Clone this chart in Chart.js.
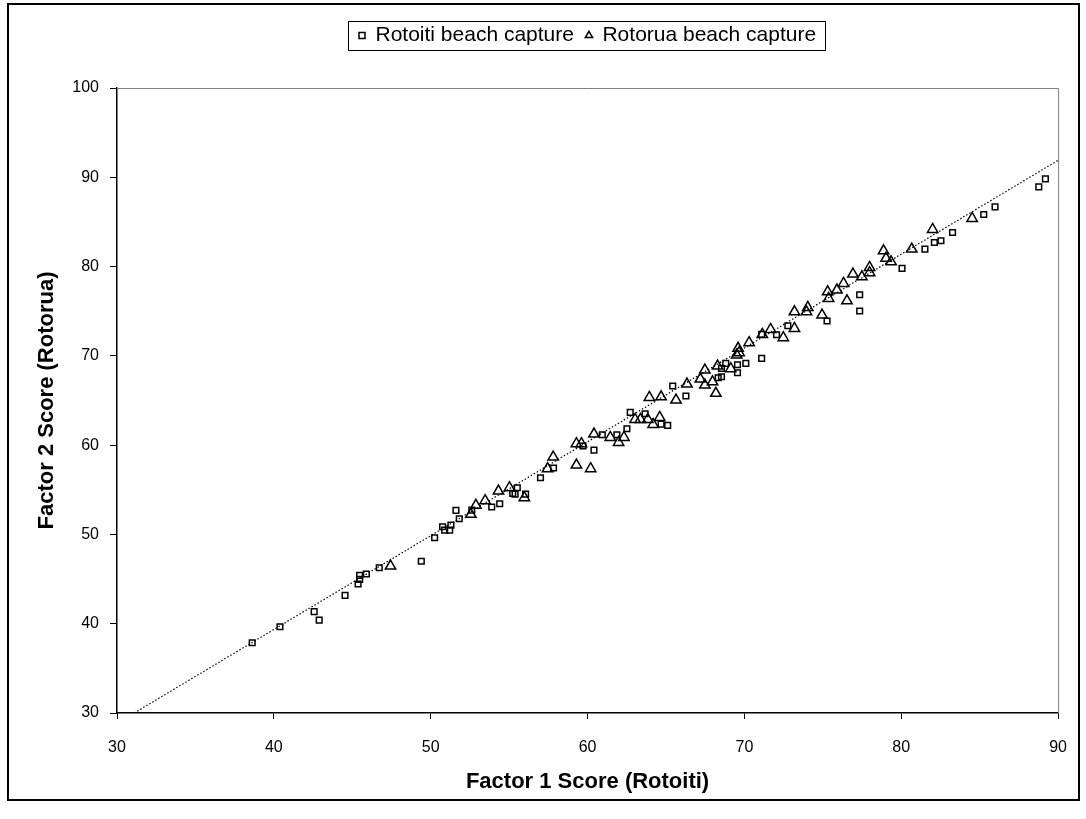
<!DOCTYPE html>
<html>
<head>
<meta charset="utf-8">
<script src="https://cdn.jsdelivr.net/npm/chart.js@4.4.1/dist/chart.umd.min.js"></script>
<style>
  html, body { margin: 0; padding: 0; background: #ffffff; }
  #wrap { width: 1086px; height: 819px; }
</style>
</head>
<body>
<div id="wrap"><canvas id="c" width="1086" height="819"></canvas></div>
<script>
// ---- Data ----
const seriesNames = ['Rotoiti beach capture', 'Rotorua beach capture'];
const axisTitles = ['Factor 1 Score (Rotoiti)', 'Factor 2 Score (Rotorua)'];

const rotoitiX = [38.62, 40.39, 42.57, 42.89, 44.54, 45.37, 45.47, 45.47, 45.90, 46.72,
  49.40, 50.25, 50.76, 50.89, 51.21, 51.29, 51.61, 51.82, 52.62, 53.89,
  54.40, 55.23, 55.38, 55.52, 56.05, 57.00, 57.83, 59.71, 60.41, 60.94,
  61.87, 62.51, 62.72, 63.67, 64.69, 65.11, 65.43, 66.27, 68.33, 68.54,
  68.54, 68.81, 69.56, 69.56, 70.09, 71.10, 71.10, 72.05, 72.77, 75.27,
  77.35, 77.35, 80.05, 81.51, 82.11, 82.53, 83.27, 85.26, 85.98, 88.77, 89.19];
const rotoitiY = [37.87, 39.66, 41.35, 40.41, 43.18, 44.45, 44.97, 45.42, 45.57, 46.27,
  47.00, 49.63, 50.86, 50.49, 50.49, 51.05, 52.70, 51.76, 52.73, 53.07,
  53.44, 54.60, 54.52, 55.23, 54.52, 56.35, 57.44, 59.90, 59.45, 61.16,
  61.16, 61.84, 63.67, 63.52, 62.36, 62.21, 66.62, 65.50, 67.55, 67.66,
  68.59, 69.15, 68.11, 69.00, 69.15, 69.71, 72.40, 72.36, 73.37, 73.90,
  75.02, 76.84, 79.79, 81.96, 82.70, 82.89, 83.82, 85.83, 86.69, 88.93, 89.83];

const rotoruaX = [47.44, 52.56, 52.88, 53.47, 54.32, 55.02, 55.97, 57.45, 57.81, 59.29,
  59.29, 59.61, 60.20, 60.41, 61.45, 61.98, 62.32, 63.03, 63.37, 63.84,
  64.18, 64.60, 63.94, 64.69, 65.64, 66.34, 67.19, 67.48, 67.48, 67.97,
  68.18, 68.29, 69.13, 69.51, 69.60, 69.66, 70.30, 71.14, 71.67, 72.48,
  73.19, 73.19, 73.96, 74.04, 74.95, 75.31, 75.37, 75.90, 76.32, 76.54,
  76.92, 77.49, 77.98, 77.98, 78.87, 79.03, 79.35, 80.67, 82.00, 84.52];
const rotoruaY = [46.46, 52.25, 53.26, 53.78, 54.86, 55.23, 54.11, 57.37, 58.67, 57.77,
  60.16, 60.16, 57.37, 61.24, 60.87, 60.31, 60.87, 62.88, 62.88, 62.88,
  62.32, 63.10, 65.34, 65.42, 65.05, 66.84, 67.40, 68.41, 66.73, 67.10,
  65.80, 68.86, 68.57, 70.09, 70.84, 70.35, 71.47, 72.40, 72.96, 72.03,
  73.07, 74.94, 74.94, 75.42, 74.57, 77.18, 76.43, 77.37, 78.11, 76.17,
  79.16, 78.86, 79.91, 79.31, 81.77, 80.92, 80.54, 81.96, 84.16, 85.39];

const trendX = [31.1, 90];
const trendY = [30.0, 91.9];

const xTicks = [30, 40, 50, 60, 70, 80, 90];
const yTicks = [30, 40, 50, 60, 70, 80, 90, 100];

// ---- Build ----
const toPts = (xs, ys) => xs.map((x, i) => ({ x: x, y: ys[i] }));
const FONT = "'Liberation Sans', Arial, sans-serif";

const framePlugin = {
  id: 'frame',
  beforeLayout(chart) {
    const lg = chart.legend;
    if (lg && !lg._patched) {
      const orig = lg.fit.bind(lg);
      lg.fit = function () { orig(); this.height = 75; };
      lg._patched = true;
    }
  },
  beforeDraw(chart) {
    const ctx = chart.ctx;
    ctx.save();
    ctx.fillStyle = '#ffffff';
    ctx.fillRect(0, 0, chart.width, chart.height);
    ctx.strokeStyle = '#000000';
    ctx.lineWidth = 2;
    ctx.strokeRect(8, 4, 1071, 796);
    ctx.restore();
  },
  afterDraw(chart) {
    const ctx = chart.ctx;
    const a = chart.chartArea;
    ctx.save();
    ctx.strokeStyle = '#808080';
    ctx.lineWidth = 1;
    ctx.beginPath();
    ctx.moveTo(a.left, a.top + 0.5);
    ctx.lineTo(a.right + 0.5, a.top + 0.5);
    ctx.lineTo(a.right + 0.5, a.bottom);
    ctx.stroke();
    const hb = chart.legend && chart.legend.legendHitBoxes;
    if (hb && hb.length) {
      const first = hb[0], last = hb[hb.length - 1];
      const cy = first.top + first.height / 2;
      const l = first.left - 11, r = last.left + last.width + 9;
      ctx.strokeStyle = '#000000';
      ctx.lineWidth = 1;
      ctx.strokeRect(Math.round(l) + 0.5, Math.round(cy - 14.5) + 0.5, Math.round(r - l), 29);
    }
    ctx.restore();
  }
};

new Chart(document.getElementById('c'), {
  type: 'scatter',
  data: {
    datasets: [
      {
        label: seriesNames[0],
        data: toPts(rotoitiX, rotoitiY),
        pointStyle: 'rect',
        pointRadius: 4,
        pointHoverRadius: 4,
        borderColor: '#000000',
        backgroundColor: 'rgba(255,255,255,0)',
        pointBorderWidth: 1.5
      },
      {
        label: seriesNames[1],
        data: toPts(rotoruaX, rotoruaY),
        pointStyle: 'triangle',
        pointRadius: 6,
        pointHoverRadius: 6,
        borderColor: '#000000',
        backgroundColor: 'rgba(255,255,255,0)',
        pointBorderWidth: 1.5
      },
      {
        type: 'line',
        label: 'trend',
        data: toPts(trendX, trendY),
        borderColor: '#000000',
        borderWidth: 1.2,
        borderDash: [1.5, 2],
        pointRadius: 0,
        fill: false,
        tension: 0
      }
    ]
  },
  options: {
    responsive: false,
    animation: false,
    events: [],
    layout: { padding: { left: 10, right: 24, top: 13, bottom: 16 } },
    plugins: {
      tooltip: { enabled: false },
      legend: {
        display: true,
        position: 'top',
        fullSize: false,
        labels: {
          usePointStyle: true,
          boxHeight: 6,
          boxWidth: 6,
          padding: 12,
          color: '#000000',
          font: { family: FONT, size: 21 },
          filter: (item) => item.text !== 'trend'
        }
      }
    },
    scales: {
      x: {
        type: 'linear',
        position: 'bottom',
        min: 30, max: 90,
        afterBuildTicks: (s) => { s.ticks = xTicks.map(v => ({ value: v })); },
        afterFit: (s) => { s.height = 90; },
        ticks: { color: '#000000', font: { family: FONT, size: 16 }, padding: 19, maxRotation: 0 },
        grid: { drawOnChartArea: false, color: '#000000', tickLength: 6, tickWidth: 1 },
        border: { color: '#000000', width: 1.5 },
        title: {
          display: true, text: axisTitles[0], color: '#000000',
          font: { family: FONT, size: 22, weight: 'bold' },
          padding: { top: 0, bottom: 8 }
        }
      },
      y: {
        type: 'linear',
        position: 'left',
        min: 30, max: 100,
        afterBuildTicks: (s) => { s.ticks = yTicks.map(v => ({ value: v })); },
        afterFit: (s) => { s.width = 107; },
        ticks: { color: '#000000', font: { family: FONT, size: 16 }, padding: 11 },
        grid: { drawOnChartArea: false, color: '#000000', tickLength: 7, tickWidth: 1 },
        border: { color: '#000000', width: 1.5 },
        title: {
          display: true, text: axisTitles[1], color: '#000000',
          font: { family: FONT, size: 22, weight: 'bold' },
          padding: { top: 24, bottom: 0 }
        }
      }
    }
  },
  plugins: [framePlugin]
});
</script>
</body>
</html>
